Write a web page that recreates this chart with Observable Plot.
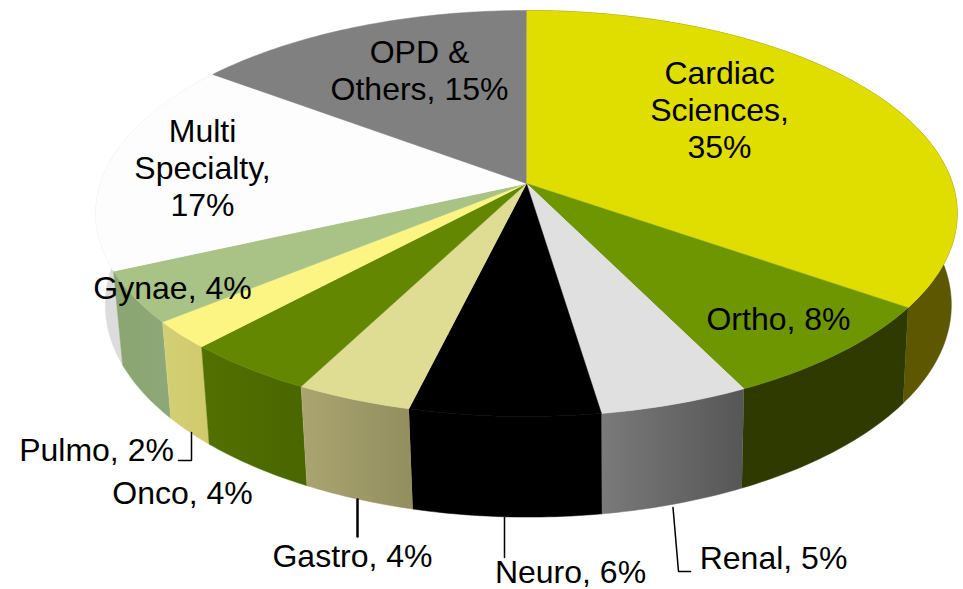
<!DOCTYPE html>
<html><head><meta charset="utf-8">
<style>html,body{margin:0;padding:0;background:#fff}svg{display:block}</style>
<script src="https://cdn.jsdelivr.net/npm/d3@7"></script>
<script src="https://cdn.jsdelivr.net/npm/@observablehq/plot@0.6"></script>
</head><body>
<script>
// Data
const names = ["Cardiac Sciences","Ortho","Renal","Neuro","Gastro","Onco","Pulmo","Gynae","Multi Specialty","OPD & Others"];
const labelled = [35,8,5,6,4,4,2,4,17,15];           // printed percentages
const arcShare = [34.7,8.0,4.9,6.2,3.8,4.3,2.2,4.1,17.0,14.8]; // slice sizes as measured
// Styles
const topColors = ["#e0dd00","#6e9600","#e0e0e0","#000000","#dfdc93","#638700","#fdf583","#a9c285","#fdfdfd","#808080"];
const wallFrom  = ["#5f5a00","#2f3a00","#7a7a7a","#000000","#aaa570","#527000","#d3cf74","#8aa570","#dcdcdc","#808080"];
const wallTo    = ["#5c5700","#2f3a00","#565656","#000000","#928e5e","#4a6600","#cfcb6c","#8fa878","#dcdcdc","#808080"];
const labelText = ["Cardiac\nSciences,\n35%","Ortho, 8%","Renal, 5%","Neuro, 6%","Gastro, 4%","Onco, 4%","Pulmo, 2%","Gynae, 4%","Multi\nSpecialty,\n17%","OPD &\nOthers, 15%"];
const labelX = [719,778,773,570,352,182,96,172,202,419];
const labelY = [109,318,557,571,555,492,449,287,167,69];

// Perspective view of a disc
const W = 963, H = 589;
const topDisc = {cx:526, cy:183, R:426, S:198.6};
const baseDisc = {cx:527.8, cy:273, R:418.4, S:207.6};
const k = 0.1478;
function project(pct, d){
  const a = pct/100*2*Math.PI, u = Math.sin(a), v = Math.cos(a), den = 1+k*v;
  return {x:d.cx+d.R*u/den, y:d.cy-d.S*v/den};
}
const cum = d3.cumsum(arcShare), total = cum[cum.length-1];
const starts = names.map((_,i)=> i? cum[i-1]/total*100 : 0);
const ends = names.map((_,i)=> cum[i]/total*100);
function arc(i,d){ const n=Math.max(2,Math.ceil((ends[i]-starts[i])*4)); return d3.range(n+1).map(j=>project(starts[i]+(ends[i]-starts[i])*j/n,d)); }

const tops=[], walls=[];
names.forEach((name,i)=>{
  [{x:topDisc.cx,y:topDisc.cy},...arc(i,topDisc)].forEach(p=>tops.push({...p,name}));
  [...arc(i,topDisc),...arc(i,baseDisc).reverse()].forEach(p=>walls.push({...p,name}));
});
// Wall paint order: the sides first, the front last; OPD's wall is behind the top
const wallOrder=[8,0,1,2,3,7,6,5,4];

const leaders=[
 {id:"Pulmo",x:178,y:460,w:1.5},{id:"Pulmo",x:191,y:460,w:1.5},{id:"Pulmo",x:191,y:432,w:1.5},
 {id:"Renal",x:672.5,y:507,w:1.5},{id:"Renal",x:678,y:571,w:1.5},{id:"Renal",x:690,y:571,w:1.5},
 {id:"Gastro",x:357,y:499,w:2.5},{id:"Gastro",x:357,y:536,w:2.5},
 {id:"Neuro",x:504,y:517,w:1.5},{id:"Neuro",x:504,y:557,w:1.5}];

const defs=()=>{
  const s=d3.create("svg:defs");
  names.forEach((_,i)=>{
    const g=s.append("linearGradient").attr("id",`wall${i}`).attr("x1",0).attr("x2",1).attr("y1",0).attr("y2",0);
    g.append("stop").attr("offset",0).attr("stop-color",wallFrom[i]);
    g.append("stop").attr("offset",1).attr("stop-color",wallTo[i]);
  });
  return s.node();
};

const chart=Plot.plot({
  width:W,height:H,margin:0,
  x:{domain:[0,W],axis:null},
  y:{domain:[H,0],axis:null},
  marks:[
    defs,
    ...wallOrder.map(i=>Plot.line(walls.filter(r=>r.name===names[i]),{x:"x",y:"y",fill:`url(#wall${i})`,stroke:`url(#wall${i})`,strokeWidth:0.5})),
    ...names.map((n,i)=>Plot.line(tops.filter(r=>r.name===n),{x:"x",y:"y",fill:topColors[i],stroke:topColors[i],strokeWidth:0.5})),
    Plot.line(leaders,{x:"x",y:"y",z:"id",stroke:"#000",strokeWidth:"w",strokeLinejoin:"miter"}),
    Plot.text(labelText,{x:(_,i)=>labelX[i],y:(_,i)=>labelY[i],text:d=>d,fontFamily:"Liberation Sans",fontSize:32,lineHeight:1.156,fill:"#000",textAnchor:"middle",lineAnchor:"middle"})
  ]
});
document.body.appendChild(chart);
</script>
</body></html>
